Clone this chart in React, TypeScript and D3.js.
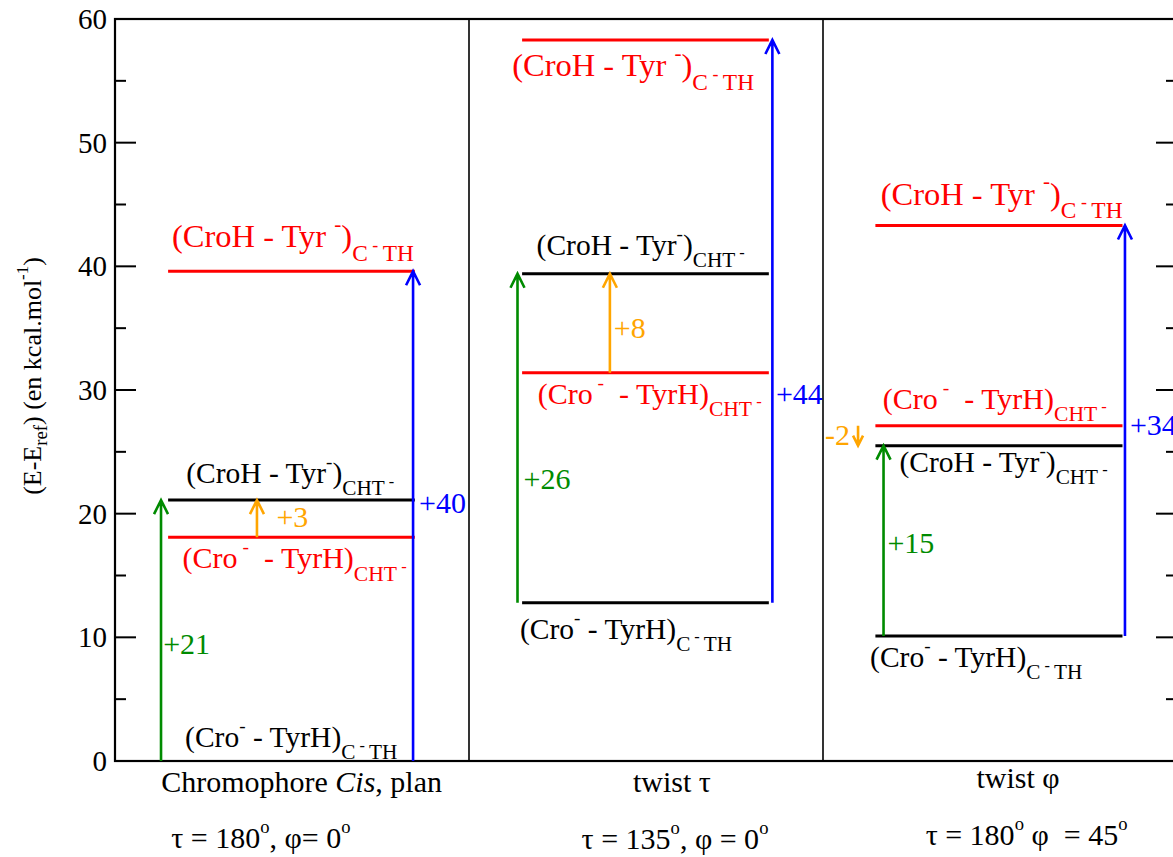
import React from "react";
import * as d3 from "d3";

// ---------- data ----------
const panelNames = ["Chromophore Cis, plan", "twist τ", "twist φ"];
const refLevel = [0, 12.8, 10.1]; // (Cro- - TyrH)C-TH
const croHTyrCHT = [21.1, 39.4, 25.5]; // (CroH - Tyr-)CHT-  (black)
const croTyrHCHT = [18.1, 31.4, 27.1]; // (Cro- - TyrH)CHT-  (red)
const croHTyrCTH = [39.6, 58.3, 43.3]; // (CroH - Tyr-)C-TH  (red)
const greenLabels = ["+21", "+26", "+15"];
const blueLabels = ["+40", "+44", "+34"];
const orangeLabels = ["+3", "+8", "-2"];
const yTicks = [0, 10, 20, 30, 40, 50, 60];
const yMinorTicks = [5, 15, 25, 35, 45, 55];
const angleLabels = [
  ["τ = 180", "o", ", φ= 0", "o"],
  ["τ = 135", "o", ", φ = 0", "o"],
  ["τ = 180", "o", " φ  = 45", "o"],
];

// ---------- layout (fractions inside each panel) ----------
const L = {
  lineStart: [0.15, 0.15, 0.148],
  lineEnd: [0.847, 0.847, 0.846],
  green: [0.13, 0.137, 0.171],
  blue: [0.842, 0.857, 0.853],
  orange: [0.401, 0.398, 0.099],
  greenLbl: [[0.136, 8.65], [0.154, 21.97], [0.182, 16.79]],
  blueLbl: [[0.859, 20.05], [0.867, 28.87], [0.867, 26.36]],
  orangeLbl: [[0.456, 18.92], [0.409, 34.18], [0.006, 25.55]],
  redTopLbl: [[0.161, -24], [0.122, 36], [0.163, -21]],
  blackCHTLbl: [[0.201, -17], [0.191, -19], [0.216, 26]],
  redCHTLbl: [[0.191, 31], [0.194, 31], [0.169, -17]],
  blackRefLbl: [[0.198, -14], [0.144, 36], [0.133, 31]],
  catLbl: [[0.527, 791.7], [0.573, 791.7], [0.551, 788]],
  angLbl: [[0.412, 848], [0.582, 849], [0.575, 845]],
};

const FONT = '"Liberation Serif", "Times New Roman", Times, serif';
const RED = "#ff0000";
const BLUE = "#0000ff";
const GREEN = "#008b00";
const ORANGE = "#ffa500";

type Seg = { t: string; k?: "main" | "sup" | "sub" | "subsup" | "deg" | "it" | "ref" };

const redTopSegs: Seg[] = [
  { t: "(CroH - Tyr " }, { t: "-", k: "sup" }, { t: ")" }, { t: "C", k: "sub" }, { t: " - ", k: "subsup" }, { t: "TH", k: "sub" },
];
const blackCHTSegs: Seg[] = [
  { t: "(CroH - Tyr" }, { t: "-", k: "sup" }, { t: ")" }, { t: "CHT", k: "sub" }, { t: " -", k: "subsup" },
];
const redCHTSegs: Seg[] = [
  { t: "(Cro" }, { t: " -", k: "sup" }, { t: "  - TyrH)" }, { t: "CHT", k: "sub" }, { t: " -", k: "subsup" },
];
const blackRefSegs: Seg[] = [
  { t: "(Cro" }, { t: "-", k: "sup" }, { t: " - TyrH)" }, { t: "C", k: "sub" }, { t: " - ", k: "subsup" }, { t: "TH", k: "sub" },
];

function segStyle(k: Seg["k"], fs: number): [number, number, boolean] {
  switch (k) {
    case "sup": return [fs * 0.65, -0.5 * fs, false];
    case "sub": return [fs * 0.72, 0.42 * fs, false];
    case "subsup": return [fs * 0.55, 0.12 * fs, false];
    case "deg": return [fs * 0.62, -0.5 * fs, false];
    case "ref": return [fs * 0.72, 0.22 * fs, false];
    case "it": return [fs, 0, true];
    default: return [fs, 0, false];
  }
}

function Rich(props: { x: number; y: number; fs: number; segs: Seg[]; fill: string; anchor?: string; transform?: string }) {
  const { x, y, fs, segs, fill, anchor, transform } = props;
  let prev = 0;
  return (
    <text x={x} y={y} fontSize={fs} fill={fill} textAnchor={anchor || "start"}
      style={{ whiteSpace: "pre", fontFamily: FONT }} transform={transform}>
      {segs.map((s, i) => {
        const [size, off, it] = segStyle(s.k, fs);
        const dy = off - prev;
        prev = off;
        return (
          <tspan key={i} dy={dy} fontSize={size} fontStyle={it ? "italic" : undefined}>{s.t}</tspan>
        );
      })}
    </text>
  );
}

function arrowPath(x: number, y1: number, y2: number, hw = 7, hh = 14) {
  const dir = y2 < y1 ? 1 : -1;
  const p = d3.path();
  p.moveTo(x, y1);
  p.lineTo(x, y2);
  p.moveTo(x - hw, y2 + dir * hh);
  p.lineTo(x, y2);
  p.lineTo(x + hw, y2 + dir * hh);
  return p.toString();
}

export default function App() {
  const W = 1173, H = 857;
  const y = d3.scaleLinear().domain([0, 60]).range([761, 19]);
  const x = d3.scaleLinear().domain([0, 3]).range([115, 1177]);
  const left = x(0), right = x(3), top = y(60), bottom = y(0);

  const px = (i: number, f: number) => x(i + f);
  const txt = { fontFamily: FONT };

  return (
    <svg width={W} height={H} style={{ position: "absolute", left: 0, top: 0, background: "#fff" }}>
      {/* frame */}
      <rect x={left} y={top} width={right - left} height={bottom - top} fill="none" stroke="#000" strokeWidth={2.2} />
      {[1, 2].map((i) => (
        <line key={i} x1={x(i)} x2={x(i)} y1={top} y2={bottom} stroke="#000" strokeWidth={1.6} />
      ))}
      {/* ticks */}
      {yTicks.map((t) => (
        <g key={t}>
          <line x1={left} x2={left + 21} y1={y(t)} y2={y(t)} stroke="#000" strokeWidth={2} />
          <line x1={right} x2={right - 21} y1={y(t)} y2={y(t)} stroke="#000" strokeWidth={2} />
          <text x={left - 8} y={y(t)} dy="0.35em" textAnchor="end" fontSize={29} style={txt}>{t}</text>
        </g>
      ))}
      {yMinorTicks.map((t) => (
        <g key={t}>
          <line x1={left} x2={left + 11} y1={y(t)} y2={y(t)} stroke="#000" strokeWidth={2} />
          <line x1={right} x2={right - 11} y1={y(t)} y2={y(t)} stroke="#000" strokeWidth={2} />
        </g>
      ))}
      {/* y label */}
      <Rich x={0} y={0} fs={26} fill="#000" anchor="middle" transform="translate(41,376) rotate(-90)"
        segs={[{ t: "(E-E" }, { t: "ref", k: "ref" }, { t: ") (en kcal.mol" }, { t: "-1", k: "sup" }, { t: ")" }]} />

      {panelNames.map((name, i) => {
        const xs = px(i, L.lineStart[i]);
        const xe = px(i, L.lineEnd[i]);
        const levels: [number, string][] = [
          [refLevel[i], "#000"],
          [croHTyrCHT[i], "#000"],
          [croTyrHCHT[i], RED],
          [croHTyrCTH[i], RED],
        ];
        const catParts = name.split("Cis");
        const down = croHTyrCHT[i] < croTyrHCHT[i];
        return (
          <g key={i}>
            {levels.map(([v, c], j) =>
              v > 0 ? <line key={j} x1={xs} x2={xe} y1={y(v)} y2={y(v)} stroke={c} strokeWidth={3} /> : null
            )}
            {/* arrows */}
            <path d={arrowPath(px(i, L.green[i]), y(refLevel[i]), y(croHTyrCHT[i]))} stroke={GREEN} strokeWidth={2.6} fill="none" />
            <path d={arrowPath(px(i, L.blue[i]), y(refLevel[i]), y(croHTyrCTH[i]))} stroke={BLUE} strokeWidth={2.6} fill="none" />
            <path d={arrowPath(px(i, L.orange[i]), y(croTyrHCHT[i]), y(croHTyrCHT[i]), down ? 5 : 7, down ? 10 : 14)}
              stroke={ORANGE} strokeWidth={2.6} fill="none" />
            {/* value labels */}
            <text x={px(i, L.greenLbl[i][0])} y={y(L.greenLbl[i][1])} fill={GREEN} fontSize={30} style={txt}>{greenLabels[i]}</text>
            <text x={px(i, L.blueLbl[i][0])} y={y(L.blueLbl[i][1])} fill={BLUE} fontSize={30} style={txt}>{blueLabels[i]}</text>
            <text x={px(i, L.orangeLbl[i][0])} y={y(L.orangeLbl[i][1])} fill={ORANGE} fontSize={30} style={txt}>{orangeLabels[i]}</text>
            {/* level labels */}
            <Rich x={px(i, L.redTopLbl[i][0])} y={y(croHTyrCTH[i]) + L.redTopLbl[i][1]} fs={32.5} fill={RED} segs={redTopSegs} />
            <Rich x={px(i, L.blackCHTLbl[i][0])} y={y(croHTyrCHT[i]) + L.blackCHTLbl[i][1]} fs={29.5} fill="#000" segs={blackCHTSegs} />
            <Rich x={px(i, L.redCHTLbl[i][0])} y={y(croTyrHCHT[i]) + L.redCHTLbl[i][1]} fs={30} fill={RED} segs={redCHTSegs} />
            <Rich x={px(i, L.blackRefLbl[i][0])} y={y(refLevel[i]) + L.blackRefLbl[i][1]} fs={29.5} fill="#000" segs={blackRefSegs} />
            {/* category labels */}
            <Rich x={px(i, L.catLbl[i][0])} y={L.catLbl[i][1]} fs={30} fill="#000" anchor="middle"
              segs={catParts.length > 1 ? [{ t: catParts[0] }, { t: "Cis", k: "it" }, { t: catParts[1] }] : [{ t: name }]} />
            <Rich x={px(i, L.angLbl[i][0])} y={L.angLbl[i][1]} fs={30} fill="#000" anchor="middle"
              segs={[{ t: angleLabels[i][0] }, { t: angleLabels[i][1], k: "deg" }, { t: angleLabels[i][2] }, { t: angleLabels[i][3], k: "deg" }]} />
          </g>
        );
      })}
    </svg>
  );
}
